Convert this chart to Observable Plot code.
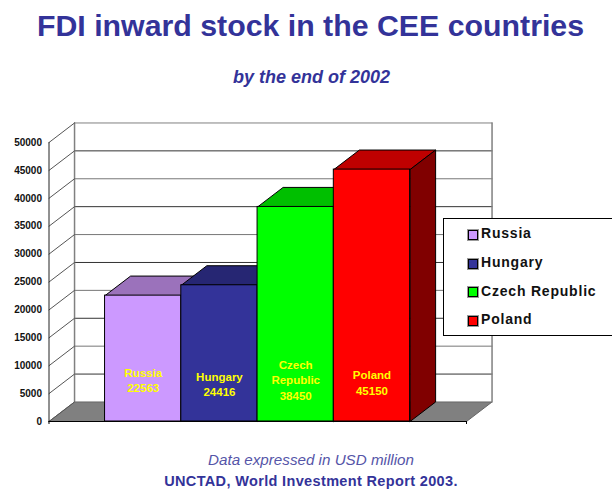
<!DOCTYPE html>
<html>
<head>
<meta charset="utf-8">
<script src="https://cdn.jsdelivr.net/npm/d3@7"></script>
<script src="https://cdn.jsdelivr.net/npm/@observablehq/plot@0.6"></script>
<style>
  html, body { margin: 0; padding: 0; background: #fff; }
  #page { position: relative; width: 612px; height: 491px; overflow: hidden; font-family: "Liberation Sans", Arial, sans-serif; }
  .t { position: absolute; left: 0; width: 612px; text-align: center; white-space: nowrap; color: #333399; }
  #title { top: 9px; font-size: 30.3px; line-height: 34px; font-weight: bold; left: 4.5px; }
  #subtitle { top: 66px; font-size: 18px; line-height: 22px; font-weight: bold; font-style: italic; left: 5.5px; }
  #note { top: 451px; font-size: 15.2px; line-height: 17px; font-style: italic; color: #5555a8; left: 5px; }
  #source { top: 473px; font-size: 14.5px; line-height: 17px; font-weight: bold; letter-spacing: .35px; left: 5px; }
  #chart { position: absolute; left: 0; top: 110px; }
  #chart svg { display: block; overflow: visible; }
  #legend { position: absolute; left: 443px; top: 218px; width: 180px; height: 118px; background: #fff; border: 1px solid #000; box-sizing: border-box; }
  .row { position: absolute; height: 20px; display: flex; align-items: center; font-size: 14px; font-weight: bold; letter-spacing: .8px; color: #111; white-space: nowrap; }
  .sw { position: absolute; left: 24px; width: 8px; height: 8px; border: 1px solid #000; box-shadow: 0 0 0 1px #999; }
</style>
</head>
<body>
<div id="page">
  <div class="t" id="title">FDI inward stock in the CEE countries</div>
  <div class="t" id="subtitle">by the end of 2002</div>
  <div id="chart"></div>
  <div id="legend"></div>
  <div class="t" id="note">Data expressed in USD million</div>
  <div class="t" id="source">UNCTAD, World Investment Report 2003.</div>
</div>
<script>
const countries = ["Russia", "Hungary", "Czech Republic", "Poland"];
const values = [22563, 24416, 38450, 45150];
const barLabels = ["Russia\n22563", "Hungary\n24416", "Czech\nRepublic\n38450", "Poland\n45150"];
const labelHeights = [7480, 6770, 7580, 7040];
const frontColors = ["#cc99ff", "#333399", "#00ff00", "#ff0000"];
const topColors = ["#9b72bb", "#262673", "#00bf00", "#bf0000"];
const sideColors = ["#664d80", "#1a1a4d", "#008000", "#800000"];
const yTicks = d3.range(0, 50001, 5000);

// Oblique projection of the depth axis, in scale units
const depthX = 0.335, depthY = 3500;
const xMin = -0.735, xMax = 4.74, yMax = 50000;

const seg = (a, b, stroke, strokeWidth = 1) =>
  Plot.line([{x: a[0], y: a[1]}, {x: b[0], y: b[1]}], {x: "x", y: "y", stroke, strokeWidth});
const poly = (pts, fill, stroke) =>
  Plot.line([...pts, pts[0]].map(([x, y]) => ({x, y})), {x: "x", y: "y", fill, stroke, strokeWidth: 1, strokeLinejoin: "miter"});

const marks = [];
// floor
marks.push(poly([[xMin, 0], [xMax, 0], [xMax + depthX, depthY], [xMin + depthX, depthY]], "#808080", "#666"));
// back wall grid lines
for (const t of yTicks.slice(1)) {
  const c = t === 50000 ? "#808080" : (t / 5000) % 2 ? "#333" : "#777";
  marks.push(seg([xMin + depthX, t + depthY], [xMax + depthX, t + depthY], c));
}
// back wall edges
for (const x of [xMin + depthX, xMax + depthX]) {
  marks.push(seg([x, depthY], [x, yMax + depthY], "#808080", 1.5));
}
// side wall diagonals
for (const t of yTicks) {
  marks.push(seg([xMin, t], [xMin + depthX, t + depthY], "#555"));
}
// bars, left to right
values.forEach((v, i) => {
  marks.push(poly([[i, v], [i + 1, v], [i + 1 + depthX, v + depthY], [i + depthX, v + depthY]], topColors[i], "#000"));
  marks.push(poly([[i + 1, 0], [i + 1 + depthX, depthY], [i + 1 + depthX, v + depthY], [i + 1, v]], sideColors[i], "#000"));
  marks.push(Plot.rect([{x1: i, x2: i + 1, y1: 0, y2: v}], {x1: "x1", x2: "x2", y1: "y1", y2: "y2", fill: frontColors[i], stroke: "#000", strokeWidth: 1}));
});
// front axis lines
marks.push(seg([xMin, 0], [xMin, yMax], "#222"));
marks.push(seg([xMin, 0], [xMax, 0], "#000"));
marks.push(Plot.ruleX([xMin, xMax], {y1: 0, y2: -540, stroke: "#000"}));
// y axis
marks.push(Plot.axisY(yTicks, {tickSize: 0, tickPadding: 7, tickFormat: "d", fontWeight: "bold", fontSize: 10, fill: "#111", label: null}));
// bar labels
marks.push(Plot.text(barLabels, {
  x: (d, i) => i + 0.5, y: (d, i) => labelHeights[i], text: d => d,
  fill: "#ffff00", fontWeight: "bold", fontSize: 11.5, lineHeight: 1.35, fontFamily: "Liberation Sans"
}));

const chart = Plot.plot({
  width: 612, height: 330,
  marginLeft: 48.5, marginRight: 146, marginTop: 32, marginBottom: 19,
  x: {type: "linear", domain: [xMin, xMax], axis: null},
  y: {type: "linear", domain: [0, yMax], axis: null},
  style: {background: "transparent", fontFamily: "Liberation Sans"},
  marks
});
document.getElementById("chart").append(chart);

const legend = document.getElementById("legend");
const rowTops = [5.5, 34.5, 63, 91.5];
countries.forEach((c, i) => {
  const row = document.createElement("div");
  row.style.cssText = `position:absolute;left:0;top:${rowTops[i]}px;width:100%;height:20px;`;
  row.innerHTML = `<span class="sw" style="top:5px;background:${frontColors[i]}"></span><span class="row" style="left:37px;top:-1.5px">${c}</span>`;
  legend.append(row);
});
</script>
</body>
</html>
